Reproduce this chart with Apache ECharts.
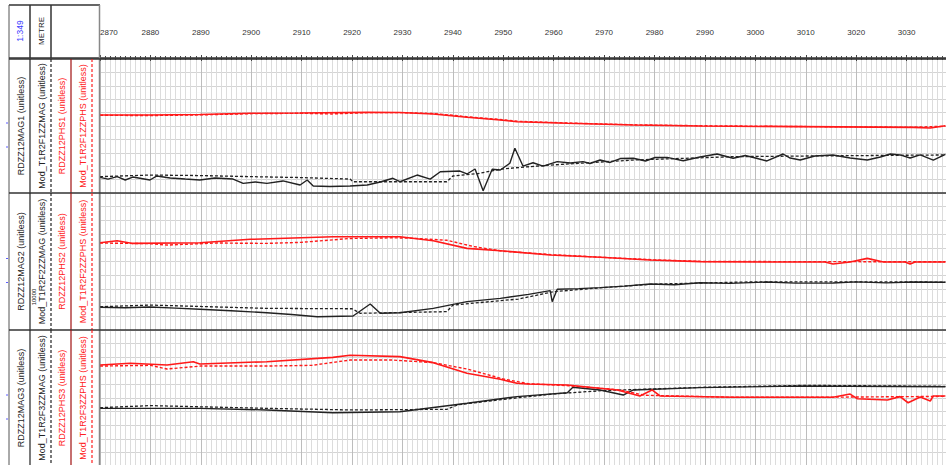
<!DOCTYPE html>
<html><head><meta charset="utf-8">
<script src="https://cdn.jsdelivr.net/npm/echarts@6/dist/echarts.min.js"></script>
<style>html,body{margin:0;padding:0;background:#fff}#c{width:946px;height:465px}</style>
</head><body><div id="c"></div><script>
// depth axis
const depthMin = 2870, depthMax = 3040, depthStep = 10;
const scaleLabel = '1:349', unitLabel = 'METRE';

// Track 1
const mag1 = [[2870,11.7],[2871.6,10.4],[2873.4,12.2],[2875,9.7],[2876.5,11.9],[2879.9,9.7],[2881.3,12.7],[2883.9,11.2],[2886.9,10.4],[2889.8,9.7],[2892.8,11.2],[2896.4,10.4],[2898.4,7.2],[2900.8,8.2],[2903.1,7.2],[2906.3,9.0],[2909.7,6.0],[2911.1,9.7],[2912.3,5.2],[2915.6,4.9],[2919.6,5.2],[2923,6.0],[2925.6,8.2],[2928.1,11.0],[2929.5,8.4],[2932.9,13.4],[2935.5,10.4],[2937.5,15.9],[2941.4,16.4],[2942.8,14.2],[2944.4,17.9],[2946,1.7],[2947.8,17.7],[2949.4,17.2],[2951.3,22.2],[2952.3,33.4],[2953.9,20.1],[2955.9,22.6],[2957.9,20.1],[2960.7,23.4],[2963.3,22.4],[2965.8,23.4],[2967.2,22.0],[2969.2,24.6],[2971.2,22.8],[2973.2,25.7],[2975.8,25.9],[2978.2,23.9],[2980.1,26.5],[2982.5,26.6],[2985.7,24.1],[2989.0,26.9],[2992.4,29.1],[2995.6,25.9],[2998,28.0],[3000,26.1],[3002.3,23.9],[3005.5,29.1],[3006.9,26.1],[3008.9,24.6],[3011.8,27.6],[3015.4,28.4],[3018.8,26.1],[3022.2,24.6],[3024.8,26.9],[3026.8,29.1],[3028.7,28.4],[3030.7,26.1],[3032.7,28.4],[3035.3,24.6],[3037.7,28.9]];
const modMag1 = [[2870,12.2],[2880,13.4],[2890,13.0],[2900,12.2],[2910,11.5],[2919.6,10.4],[2920.2,8.4],[2930,8.4],[2938.8,8.4],[2940,12.7],[2945,14.5],[2949.4,17.7],[2953,19.0],[2960,21.0],[2975.8,24.6],[2995.6,27.1],[3010,27.6],[3037.7,28.4]];
const phs1 = [[2870,58.2],[2879.9,58.2],[2889.8,58.6],[2899.8,59.5],[2909.7,59.7],[2923,60.2],[2929.5,60.1],[2936.1,59.0],[2942.8,56.5],[2949.4,54.5],[2952.7,53.2],[2962.7,52.0],[2975.8,50.7],[2989.0,50.0],[3008.9,49.5],[3031.3,49.0],[3034.7,48.5],[3037.7,50.2]];
const modPhs1 = [[2870,58.0],[2880,57.8],[2890,58.3],[2900,59.2],[2910,59.5],[2916,59.0],[2923,60.0],[2930,60.0],[2936,59.3],[2940,58.0],[2943,56.8],[2949,55.0],[2953,53.5],[2963,52.2],[2976,50.9],[2989,50.2],[3009,49.6],[3031,49.1],[3037.7,49.8]];

// Track 2
const mag2 = [[2870,16.6],[2875,16.2],[2879.9,16.8],[2885,16.0],[2889.8,15.1],[2896,14.0],[2903.1,12.6],[2908,11.3],[2913.1,9.7],[2920.2,10.2],[2923.6,19.0],[2925.6,12.2],[2929.5,12.6],[2936.1,15.8],[2942.8,20.7],[2949.4,23.1],[2955,26.0],[2959.3,28.7],[2959.7,20.7],[2960.7,29.7],[2965,30.2],[2969.2,30.9],[2974,32.0],[2979.1,33.6],[2984,33.0],[2989.0,34.5],[2995,34.0],[3002.3,35.0],[3008,34.2],[3015.4,34.3],[3020,35.1],[3026,34.4],[3031,35.0],[3037.7,34.8]];
const modMag2 = [[2870,17.0],[2880,18.2],[2903,15.8],[2920,15.5],[2921.6,12.2],[2938.8,13.4],[2940,18.2],[2953,22.6],[2960,28.0],[2970,31.0],[2980,33.5],[3000,35.2],[3037.7,35.0]];
const phs2 = [[2870,63.7],[2873.4,65.2],[2876.5,63.2],[2889.8,63.7],[2899.8,66.2],[2916.2,68.1],[2929.5,68.1],[2936.1,65.2],[2942.8,59.6],[2949.4,57.9],[2959.3,54.7],[2969.2,53.1],[2979.1,51.1],[2989.0,49.9],[3002.3,49.6],[3013.8,49.6],[3015.4,48.2],[3018.8,49.6],[3022.2,52.3],[3025.4,49.6],[3029.7,49.6],[3030.7,48.2],[3031.7,49.6],[3037.7,49.6]];
const modPhs2 = [[2870,63.5],[2880,63.0],[2883.3,62.0],[2893.2,63.5],[2903.1,63.2],[2910,64.0],[2919.6,66.8],[2928.1,67.3],[2932,67.0],[2938.8,65.5],[2944,61.0],[2950,57.5],[2960,54.9],[2970,53.0],[2980,51.2],[2990,50.0],[3037.7,49.8]];

// Track 3
const mag3 = [[2870,42.4],[2889.8,42.4],[2903.1,41.2],[2916.2,39.2],[2929.5,39.9],[2942.8,46.1],[2952.7,51.0],[2962.7,53.9],[2963.8,57.9],[2969.2,55.9],[2973.8,52.2],[2975.8,55.9],[2989.0,57.6],[3008.9,58.8],[3037.7,58.3]];
const modMag3 = [[2870,42.9],[2880,44.4],[2903,42.4],[2920,41.2],[2938.8,41.7],[2941,45.0],[2950,49.0],[2960,53.0],[2970,55.5],[2990,57.9],[3010,59.3],[3037.7,58.6]];
const phs3 = [[2870,74.3],[2876,75.5],[2883.3,74.3],[2888.5,76.7],[2889.8,75.0],[2903.1,76.7],[2916.2,79.9],[2919.6,81.4],[2929.5,80.4],[2936.1,76.0],[2942.8,68.2],[2949.4,63.8],[2952.7,60.8],[2954.7,60.3],[2962.7,59.6],[2972.6,55.9],[2977.1,51.5],[2979.5,55.9],[2981.1,51.5],[2995.6,50.5],[3015.4,50.5],[3018.8,52.9],[3020.2,49.5],[3026.2,48.5],[3028.7,51.0],[3030.3,46.5],[3032.7,50.7],[3034.7,47.8],[3035.3,51.5],[3037.7,51.5]];
const modPhs3 = [[2870,73.5],[2880,74.0],[2883.3,71.3],[2890,73.5],[2903.1,73.5],[2912,74.0],[2919.6,77.9],[2928.1,77.9],[2936.1,76.0],[2942.8,71.3],[2950,64.0],[2955,60.5],[2963,59.0],[2973,56.0],[2978,52.0],[2995,50.6],[3015,50.6],[3037.7,51.2]];

const trackNames = [
  ['RDZZ12MAG1 (unitless)','Mod_T1R2F1ZZMAG (unitless)','RDZZ12PHS1 (unitless)','Mod_T1R2F1ZZPHS (unitless)'],
  ['RDZZ12MAG2 (unitless)','Mod_T1R2F2ZZMAG (unitless)','RDZZ12PHS2 (unitless)','Mod_T1R2F2ZZPHS (unitless)'],
  ['RDZZ12MAG3 (unitless)','Mod_T1R2F3ZZMAG (unitless)','RDZZ12PHS3 (unitless)','Mod_T1R2F3ZZPHS (unitless)']
];
const trackData = [[mag1,modMag1,phs1,modPhs1],[mag2,modMag2,phs2,modPhs2],[mag3,modMag3,phs3,modPhs3]];

const tops = [59,193,330], heights = [134,137,136];
const plotLeft = 100, plotWidth = 857;
const font = '"Liberation Sans", Arial, sans-serif';

const grids = [{left:plotLeft, width:plotWidth, top:5, height:53, outerBoundsMode:'none', containLabel:false}];
tops.forEach((t,i)=>grids.push({left:plotLeft, width:plotWidth, top:t, height:heights[i], outerBoundsMode:'none', containLabel:false}));

const xAxes = [
  {gridIndex:0, type:'value', position:'top', min:depthMin, max:depthMax, interval:depthStep,
   axisLine:{lineStyle:{color:'#999',width:1}}, axisTick:{inside:true,length:3,lineStyle:{color:'#444'}},
   minorTick:{show:true,splitNumber:10,length:2,lineStyle:{color:'#444'}},
   axisLabel:{show:false}, splitLine:{show:false}},
  {gridIndex:0, type:'value', position:'bottom', min:depthMin, max:depthMax, interval:depthStep,
   axisLine:{lineStyle:{color:'#333',width:1.5}}, axisTick:{inside:true,length:3,lineStyle:{color:'#444'}},
   minorTick:{show:true,splitNumber:10,length:2,lineStyle:{color:'#444'}},
   axisLabel:{inside:true, margin:22, fontSize:8, color:'#333', fontFamily:font, alignMinLabel:'left',
     formatter:(v)=>String(v)},
   splitLine:{show:false}}
];
const yAxes = [{gridIndex:0, type:'value', min:0, max:1, show:false}];
tops.forEach((t,i)=>{
  xAxes.push({gridIndex:i+1, type:'value', min:depthMin, max:depthMax, interval:depthStep,
    axisLine:{show:false}, axisTick:{show:false}, axisLabel:{show:false},
    minorTick:{show:false, splitNumber:10},
    splitLine:{show:true, lineStyle:{color:'#bdbdbd', width:1}},
    minorSplitLine:{show:true, lineStyle:{color:'#dcdcdc', width:1}}});
  yAxes.push({gridIndex:i+1, type:'value', min:0, max:100, interval:10,
    axisLine:{show:false}, axisTick:{show:false}, axisLabel:{show:false},
    splitLine:{show:true, lineStyle:{color:'#d4d4d4', width:1}}});
});

const styles = [
  {color:'#222', type:'solid', w:1.4},
  {color:'#222', type:[3,2], w:1.3},
  {color:'#ff1a1a', type:'solid', w:1.6},
  {color:'#ff1a1a', type:[3,2], w:1.4}
];
const series = [];
trackData.forEach((arr,i)=>{
  arr.forEach((d,k)=>{
    series.push({type:'line', name:trackNames[i][k], xAxisIndex:i+2, yAxisIndex:i+1, data:d,
      showSymbol:false, symbol:'none', silent:true, animation:false,
      lineStyle:{color:styles[k].color, width:styles[k].w, type:styles[k].type}, z: k>=2?3:2});
  });
});

// decorations
const G = [];
function line(x1,y1,x2,y2,stroke,w,dash){G.push({type:'line',silent:true,z:100,shape:{x1,y1,x2,y2},style:{stroke,lineWidth:w||1,lineDash:dash||null}});}
function text(x,y,t,fill,size){G.push({type:'text',silent:true,z:101,x,y,rotation:Math.PI/2,
  style:{text:t,fill,font:size+'px '+font,align:'center',verticalAlign:'middle',textAlign:'center',textVerticalAlign:'middle'}});}

// header box
line(9,5,100,5,'#333',1.5);
line(9,5,9,465,'#555',1);
line(30,5,30,58,'#333',1.5);
line(51,5,51,58,'#333',1.5);
line(9,58,100,58,'#333',1.5);
line(99.5,5,99.5,465,'#888',1.5);
text(20,31,scaleLabel,'#3a3aff',8.5);
text(41,31,unitLabel,'#222',8);
// track separators
tops.forEach((t,i)=>{
  line(9,t,946,t,'#333',1.6);
  const b = t+heights[i];
  line(30,t,30,b,'#222',1.2);
  line(51,t,51,b,'#222',1.2,[3,2]);
  line(71,t,71,b,'#a01010',1.2);
  line(92,t,92,b,'#ff2020',1.2,[3,2]);
  const cy = t+heights[i]/2;
  text(21,cy,trackNames[i][0],'#222',9);
  text(41.5,cy,trackNames[i][1],'#222',9);
  text(62,cy,trackNames[i][2],'#ff2020',9);
  text(82.5,cy,trackNames[i][3],'#ff2020',9);
  line(6,cy-3,8,cy-3,'#5a5aff',1);
  line(6,cy+21,8,cy+21,'#5a5aff',1);
});
text(34,297,'10000','#222',6);

const chart = echarts.init(document.getElementById('c'), null, {renderer:'svg'});
chart.setOption({animation:false, backgroundColor:'#fff', grid:grids, xAxis:xAxes, yAxis:yAxes, series, graphic:{elements:G}});
</script></body></html>
